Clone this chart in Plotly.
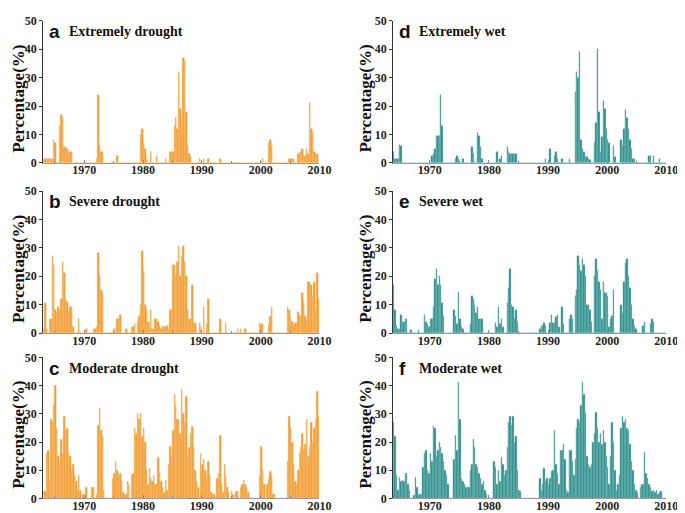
import plotly.graph_objects as go

# ---------------- data (quarterly values, 1963 Q1 .. 2009 Q4) ----------------
start_year = 1963
n_years = 47

extreme_drought = [
    1.4, 1.4, 1.4, 1.4,   # 1963
    1.4, 1.4, 1.4, 8,     # 1964
    7, 0, 0, 13,          # 1965
    17, 16, 5.5, 5.5,     # 1966
    5, 3, 4, 4,           # 1967
    0, 0, 0, 0,           # 1968
    0, 0, 0, 0,           # 1969
    0, 0, 0, 0,           # 1970
    0, 0, 0, 0,           # 1971
    1.5, 24, 6, 4,        # 1972
    4, 0, 0, 0,           # 1973
    0, 0, 0, 0,           # 1974
    0, 0, 2.5, 0,         # 1975
    0, 0, 0, 0,           # 1976
    0, 0, 0, 0,           # 1977
    0, 0, 0, 0,           # 1978
    0, 0, 10, 12,         # 1979
    7, 5, 1.5, 0,         # 1980
    0, 4, 0, 0,           # 1981
    0, 2.5, 0, 0,         # 1982
    0, 0, 0, 1.5,         # 1983
    0, 0, 4, 4,           # 1984
    4, 13, 16, 12,        # 1985
    32, 19, 15, 37,       # 1986
    36, 18, 6, 3,         # 1987
    2, 0, 0, 0,           # 1988
    0, 0, 1.5, 0,         # 1989
    0, 1.5, 0, 0,         # 1990
    1.5, 0, 0, 0,         # 1991
    0, 0, 0, 0,           # 1992
    1.5, 0, 0, 0,         # 1993
    0, 0, 0, 0,           # 1994
    0, 0, 0, 0,           # 1995
    0, 0, 0, 0,           # 1996
    0, 0, 0, 0,           # 1997
    0, 0, 0, 0,           # 1998
    0, 0, 0, 0,           # 1999
    0, 1.5, 0, 0,         # 2000
    0, 7, 8, 6,           # 2001
    0, 0, 0, 0,           # 2002
    0, 0, 0, 0,           # 2003
    0, 0, 0, 1.5,         # 2004
    1.5, 1.5, 1.5, 0,     # 2005
    0, 3, 3.5, 4,         # 2006
    5, 2.5, 2.5, 5,       # 2007
    3, 21, 12, 11,        # 2008
    4, 3, 3, 0,           # 2009
]

severe_drought = [
    1.5, 10.5, 1.5, 0,    # 1963
    5, 5, 27, 24,         # 1964
    8, 7, 9, 8,           # 1965
    12, 25, 21, 12,       # 1966
    11, 7, 9, 9,          # 1967
    2, 0, 0, 0,           # 1968
    5, 0, 0, 0,           # 1969
    0, 1.5, 0, 0,         # 1970
    0, 0, 1.5, 1.5,       # 1971
    2, 28, 20, 15,        # 1972
    14, 0, 0, 0,          # 1973
    0, 0, 0, 0,           # 1974
    1.5, 0, 5, 5,         # 1975
    6.5, 0, 0, 0,         # 1976
    1.5, 0, 0, 0,         # 1977
    2, 2, 3, 0,           # 1978
    4, 6, 10, 29,         # 1979
    22, 10, 8, 4,         # 1980
    1.5, 8, 1.5, 1.5,     # 1981
    5, 5, 4, 2.5,         # 1982
    1.5, 2.5, 2, 2.5,     # 1983
    2.5, 1.5, 8, 8,       # 1984
    24, 24, 20, 25,       # 1985
    30.5, 20, 27, 30.5,   # 1986
    25, 20, 8, 5,         # 1987
    5, 17, 3.5, 3.5,      # 1988
    0, 0, 3.5, 2,         # 1989
    0, 9, 0, 3,           # 1990
    12, 0, 0, 0,          # 1991
    0, 0, 0, 0,           # 1992
    5, 0, 0, 0,           # 1993
    3.5, 0, 0, 0,         # 1994
    0, 0, 0, 0,           # 1995
    1.5, 0, 1.5, 0,       # 1996
    0, 1.5, 0, 0,         # 1997
    0, 0, 0, 0,           # 1998
    0, 0, 0, 3.5,         # 1999
    3, 3, 0, 0,           # 2000
    0, 3, 6, 9,           # 2001
    0, 0, 0, 0,           # 2002
    0, 0, 0, 0,           # 2003
    0, 0, 9, 8,           # 2004
    5, 4, 2.5, 3.5,       # 2005
    3.5, 7.5, 6, 6,       # 2006
    14, 11, 6, 4,         # 2007
    18, 18, 17, 13,       # 2008
    18, 8, 21, 12,        # 2009
]

moderate_drought = [
    2.5, 2.5, 16, 17,     # 1963
    6, 28, 27, 33,        # 1964
    40, 25, 15, 12,       # 1965
    21, 16, 29, 24,       # 1966
    25, 16, 15, 10,       # 1967
    12, 8, 6, 3,          # 1968
    8, 3, 0, 1.5,         # 1969
    1.5, 4, 0, 0,         # 1970
    0, 4, 4, 0,           # 1971
    1.5, 26, 32, 24,      # 1972
    22, 3, 0, 0,          # 1973
    0, 0, 0, 7,           # 1974
    9, 13, 10, 8,         # 1975
    9, 6, 2, 1.5,         # 1976
    1.5, 6, 5, 0,         # 1977
    8, 9, 25, 23,         # 1978
    30, 28, 30, 22,       # 1979
    25, 20, 10, 5,        # 1980
    10.5, 7, 6, 8,        # 1981
    5, 5, 14.5, 9,        # 1982
    6, 4, 2, 6.5,         # 1983
    3, 12, 18.5, 15,      # 1984
    24, 37, 33, 28,       # 1985
    28, 23, 38.5, 30,     # 1986
    27, 36, 15, 18,       # 1987
    23, 25.7, 18, 10,     # 1988
    6, 4, 0, 16,          # 1989
    12, 14, 10, 7,        # 1990
    13, 8, 2, 1.5,        # 1991
    1.5, 0, 7, 9,         # 1992
    22.5, 5, 2, 12,       # 1993
    8, 4, 2, 0,           # 1994
    2.5, 1.5, 0, 2.5,     # 1995
    2.5, 0, 4, 5,         # 1996
    6.5, 5, 4, 2,         # 1997
    0, 0, 0, 0,           # 1998
    0, 0, 0, 8,           # 1999
    18.5, 10, 5, 0,       # 2000
    5, 7, 9.5, 8,         # 2001
    1.5, 1.5, 0, 0,       # 2002
    0, 0, 0, 0,           # 2003
    0, 0, 13, 29,         # 2004
    25, 20, 12, 6,        # 2005
    5, 10, 16, 18,        # 2006
    23, 17, 19, 28,       # 2007
    15, 18, 27, 20,       # 2008
    25, 28, 38, 29,       # 2009
]

extreme_wet = [
    0, 0, 0, 4,           # 1963
    1.5, 1.5, 1.5, 6.5,   # 1964
    6, 0, 0, 0,           # 1965
    0, 0, 0, 0,           # 1966
    0, 0, 0, 0,           # 1967
    0, 0, 0, 0,           # 1968
    0, 0, 0, 0,           # 1969
    0, 2.5, 3, 5,         # 1970
    9.5, 9.5, 9.5, 24,    # 1971
    13, 0, 0, 0,          # 1972
    0, 0, 0, 0,           # 1973
    0, 1.5, 2.5, 1.5,     # 1974
    0, 0, 1.5, 0,         # 1975
    0, 0, 0, 0,           # 1976
    5.5, 3, 0, 0,         # 1977
    10.5, 9.5, 5.5, 1.5,  # 1978
    0, 0, 0, 0,           # 1979
    0, 0, 0, 0,           # 1980
    0, 4, 0, 1.5,         # 1981
    2.5, 0, 0, 0,         # 1982
    5.5, 4, 3, 3,         # 1983
    3, 3, 3, 0,           # 1984
    0, 0, 0, 0,           # 1985
    0, 0, 0, 0,           # 1986
    0, 0, 0, 0,           # 1987
    0, 0, 0, 0,           # 1988
    0, 0, 1.5, 0,         # 1989
    0, 5, 0, 0,           # 1990
    2.5, 4, 1.5, 0,       # 1991
    0, 1.5, 0, 0,         # 1992
    0, 0, 1.5, 0,         # 1993
    0, 0, 25, 32,         # 1994
    30, 39, 8, 5,         # 1995
    4, 2, 2, 1.5,         # 1996
    1, 0, 0, 7,           # 1997
    14, 40, 18, 4,        # 1998
    9, 22, 19, 12,        # 1999
    8, 7, 0, 0,           # 2000
    6, 2, 0, 0,           # 2001
    0, 8, 6, 12,          # 2002
    18.5, 16, 12, 8,      # 2003
    5, 1.5, 1.5, 0,       # 2004
    0, 0, 0, 0,           # 2005
    0, 0, 0, 0,           # 2006
    2.5, 2.5, 0, 2.5,     # 2007
    0, 0, 0, 1.5,         # 2008
    0, 0, 0, 0,           # 2009
]

severe_wet = [
    0, 0, 0, 17,          # 1963
    8, 2.5, 1.5, 1.5,     # 1964
    6.5, 4, 4, 5,         # 1965
    5, 0, 0, 1,           # 1966
    0, 0, 0, 0,           # 1967
    1, 0, 0, 0,           # 1968
    6.5, 4, 3, 2,         # 1969
    5, 5, 9, 19,          # 1970
    22.5, 17, 20, 17,     # 1971
    10.5, 6, 0, 0,        # 1972
    0, 0, 0, 0,           # 1973
    8, 6, 3, 14.5,        # 1974
    5, 2, 1.5, 0,         # 1975
    0, 0, 0, 3,           # 1976
    13, 12, 10, 7,        # 1977
    9, 5, 5, 5,           # 1978
    0, 0, 0, 0,           # 1979
    0, 0, 0, 0,           # 1980
    3.5, 2, 9, 3,         # 1981
    5, 2, 0, 0,           # 1982
    10.5, 16, 22.5, 10,   # 1983
    9, 5, 8, 4,           # 1984
    0, 0, 0, 0,           # 1985
    0, 0, 0, 0,           # 1986
    0, 0, 0, 0,           # 1987
    0, 0, 1.5, 2.5,       # 1988
    2.5, 3.5, 2.5, 0,     # 1989
    0, 3.5, 6.5, 3.5,     # 1990
    3.5, 5.5, 6.5, 2,     # 1991
    0, 9, 3, 0,           # 1992
    0, 0, 5, 6.5,         # 1993
    5, 0, 13, 15,         # 1994
    27, 24, 22, 26,       # 1995
    24, 20, 10, 10,       # 1996
    8, 4, 0, 20,          # 1997
    26, 22, 18, 15,       # 1998
    5, 18, 14, 14,        # 1999
    13, 2, 5, 6,          # 2000
    15, 0, 0, 0,          # 2001
    0, 10, 7, 18,         # 2002
    24.5, 26, 20, 16,     # 2003
    10, 5, 2.5, 1.5,      # 2004
    0, 0, 0, 0,           # 2005
    2.5, 4, 0, 0,         # 2006
    0, 3, 5, 4,           # 2007
    0, 0, 0, 0,           # 2008
    0, 0, 0, 0,           # 2009
]

moderate_wet = [
    0, 0, 0, 27,          # 1963
    22, 8, 3, 7.5,        # 1964
    6, 6.5, 6, 9,         # 1965
    9, 5, 3, 0,           # 1966
    0, 1, 7.5, 4,         # 1967
    1.5, 1.5, 1.5, 11,    # 1968
    16, 17, 10, 9,        # 1969
    16, 13, 25.5, 25,     # 1970
    15, 17, 20, 18,       # 1971
    16, 13, 10, 8,        # 1972
    5, 0, 0, 0,           # 1973
    14, 22.5, 17, 41,     # 1974
    28, 7, 6, 5,          # 1975
    4, 4, 4, 10,          # 1976
    12, 21, 18, 12,       # 1977
    11, 9, 7, 5,          # 1978
    6, 3, 1.5, 0,         # 1979
    0, 0, 0, 13,          # 1980
    11, 5, 10, 6,         # 1981
    14.5, 12, 8, 10,      # 1982
    18, 27, 29, 26,       # 1983
    29, 20, 22, 10,       # 1984
    3, 2.5, 0, 0,         # 1985
    0, 0, 0, 0,           # 1986
    0, 0, 0, 0,           # 1987
    0, 0, 7, 3,           # 1988
    5, 10.8, 6, 7,        # 1989
    5, 7, 9.5, 10,        # 1990
    24, 12, 9, 5,         # 1991
    17, 17, 19, 14,       # 1992
    3, 2, 17, 17,         # 1993
    13, 8, 14, 25,        # 1994
    28, 27, 33, 41,       # 1995
    37, 30, 15, 12,       # 1996
    11, 12, 20, 23,       # 1997
    30.5, 25, 20, 23,     # 1998
    19, 24, 20, 15,       # 1999
    11, 5, 15, 27,        # 2000
    20, 10, 3, 5,         # 2001
    8, 25, 29, 27,        # 2002
    28, 25, 24, 19,       # 2003
    13, 10, 5, 3,         # 2004
    2, 0, 4, 5,           # 2005
    5, 16.5, 9, 7,        # 2006
    5, 4, 2.5, 3,         # 2007
    2, 3, 1.5, 2,         # 2008
    2.5, 0, 0, 0,         # 2009
]

panel_letters = ["a", "b", "c", "d", "e", "f"]
panel_titles = ["Extremely drought", "Severe drought", "Moderate drought",
                "Extremely wet", "Severe wet", "Moderate wet"]
series = [extreme_drought, severe_drought, moderate_drought,
          extreme_wet, severe_wet, moderate_wet]
x_tick_vals = [1970, 1980, 1990, 2000, 2010]
y_tick_vals = [0, 10, 20, 30, 40, 50]
y_label = "Percentage(%)"

# ---------------- styling / layout ----------------
W, H = 685, 513
ORANGE, ORANGE_EDGE = "#F2992B", "#F7C27C"
TEAL, TEAL_EDGE = "#2A8A89", "#86C4C2"
SERIF = "Liberation Serif, Times New Roman, serif"
SANS = "Liberation Sans, Arial, sans-serif"

quarter_x = [start_year + i * 0.25 + 0.125 for i in range(n_years * 4)]

# pixel boxes
col_px = [(36, 317, 1963.05, 2010.0), (392, 670, 1963.8, 2010.0)]
row_px = [(6, 152), (181, 327), (352, 497)]

fig = go.Figure()
annotations = []
for k, vals in enumerate(series):
    assert len(vals) == n_years * 4, (k, len(vals))
    col, row = k // 3, k % 3
    x0, x1, r0, r1 = col_px[col]
    yt, yb = row_px[row]
    idx = "" if k == 0 else str(k + 1)
    color, edge = (ORANGE, ORANGE_EDGE) if col == 0 else (TEAL, TEAL_EDGE)
    fig.add_trace(go.Bar(
        x=quarter_x, y=vals, width=0.25,
        marker=dict(color=color, line=dict(color=edge, width=0.4)),
        xaxis="x" + idx, yaxis="y" + idx, showlegend=False,
    ))
    fig.layout["xaxis" + idx] = dict(
        domain=[x0 / W, x1 / W], range=[r0, r1], anchor="y" + idx,
        tickvals=x_tick_vals, ticks="inside", ticklen=3, tickcolor="#888",
        ticklabelstandoff=-4,
        showline=True, linecolor="#999", linewidth=1.2, showgrid=False, zeroline=False,
        tickfont=dict(family=SERIF, size=12, color="#222", weight="bold"),
        minor=dict(tickvals=[1965, 1975, 1985, 1995, 2005], ticks="inside",
                   ticklen=2, tickcolor="#888"),
    )
    fig.layout["yaxis" + idx] = dict(
        domain=[1 - yb / H, 1 - yt / H], range=[0, 50], anchor="x" + idx,
        tickvals=y_tick_vals, ticks="outside", ticklen=3, tickcolor="#333",
        showline=True, linecolor="#333", linewidth=1.2, showgrid=False, zeroline=False,
        tickfont=dict(family=SERIF, size=12, color="#222", weight="bold"),
    )
    # y label (right edge of rotated box just left of tick labels)
    ylab_x = 23 if col == 0 else 376
    annotations.append(dict(
        x=ylab_x / W, y=1 - ((yt + yb) / 2 + 7) / H, xref="paper", yref="paper",
        text=y_label, textangle=-90, showarrow=False, xanchor="right", yanchor="middle",
        font=dict(family=SERIF, size=17, color="#111", weight="bold"),
    ))
    # panel letter and title
    lx = 40 if col == 0 else 396
    ty = yt + 11
    annotations.append(dict(
        x=lx / W, y=1 - ty / H, xref="paper", yref="paper", text=panel_letters[k],
        showarrow=False, xanchor="left", yanchor="middle",
        font=dict(family=SANS, size=19, color="#111", weight="bold"),
    ))
    annotations.append(dict(
        x=(lx + 20) / W, y=1 - ty / H, xref="paper", yref="paper", text=panel_titles[k],
        showarrow=False, xanchor="left", yanchor="middle",
        font=dict(family=SERIF, size=14, color="#111", weight="bold"),
    ))

fig.update_layout(
    width=W, height=H, margin=dict(l=0, r=0, t=0, b=0),
    paper_bgcolor="white", plot_bgcolor="white",
    bargap=0, barmode="overlay", annotations=annotations,
)
fig.write_html("out.html")
